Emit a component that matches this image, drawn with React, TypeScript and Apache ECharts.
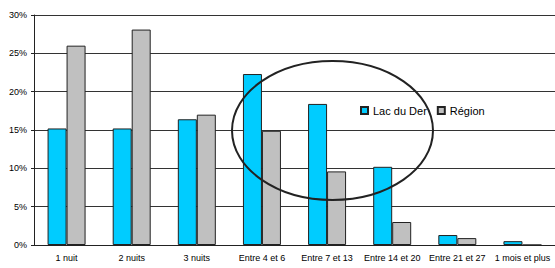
import React, { useEffect, useRef } from "react";
import * as echarts from "echarts";

const categories = ["1 nuit", "2 nuits", "3 nuits", "Entre 4 et 6", "Entre 7 et 13", "Entre 14 et 20", "Entre 21 et 27", "1 mois et plus"];
const lacDuDer = [15.2, 15.2, 16.4, 22.3, 18.4, 10.2, 1.3, 0.5];
const region = [26.0, 28.1, 17.0, 14.9, 9.6, 3.0, 0.9, 0];
const seriesNames = ["Lac du Der", "Région"];

export default function App() {
  const ref = useRef<HTMLDivElement>(null);
  useEffect(() => {
    document.body.style.margin = "0";
    const chart = echarts.init(ref.current!, null, { renderer: "svg" });
    const font = "'Liberation Sans', Arial, sans-serif";
    chart.setOption({
      animation: false,
      backgroundColor: "#ffffff",
      grid: { left: 34, right: -5, top: 15, bottom: 23, containLabel: false },
      legend: {
        left: 355,
        top: 100,
        itemWidth: 7,
        itemHeight: 7,
        itemGap: 10,
        icon: "rect",
        textStyle: { fontFamily: font, fontSize: 11, color: "#000" },
        data: seriesNames,
      },
      xAxis: {
        type: "category",
        data: categories,
        axisLine: { lineStyle: { color: "#222", width: 1 } },
        axisTick: { length: 4, lineStyle: { color: "#222" } },
        axisLabel: { fontFamily: font, fontSize: 9, color: "#000", margin: 8, interval: 0 },
      },
      yAxis: {
        type: "value",
        min: 0,
        max: 30,
        interval: 5,
        axisLine: { show: true, lineStyle: { color: "#222", width: 1 } },
        axisTick: { show: true, length: 3, lineStyle: { color: "#222" } },
        axisLabel: { fontFamily: font, fontSize: 9, color: "#000", margin: 7, formatter: "{value}%" },
        splitLine: { lineStyle: { color: "#333", width: 1 } },
      },
      series: [
        {
          name: seriesNames[0],
          type: "bar",
          data: lacDuDer,
          barWidth: 19,
          barGap: "0%",
          itemStyle: { color: "#00CCFF", borderColor: "#222", borderWidth: 1 },
        },
        {
          name: seriesNames[1],
          type: "bar",
          data: region,
          barWidth: 19,
          barGap: "0%",
          itemStyle: { color: "#C0C0C0", borderColor: "#222", borderWidth: 1 },
        },
      ],
      graphic: [
        {
          type: "ellipse",
          z: 100,
          shape: { cx: 332.5, cy: 130.5, rx: 100.5, ry: 69.5 },
          style: { fill: "none", stroke: "#222", lineWidth: 2 },
        },
      ],
    });
    return () => chart.dispose();
  }, []);
  return <div ref={ref} style={{ width: 555, height: 268 }} />;
}
